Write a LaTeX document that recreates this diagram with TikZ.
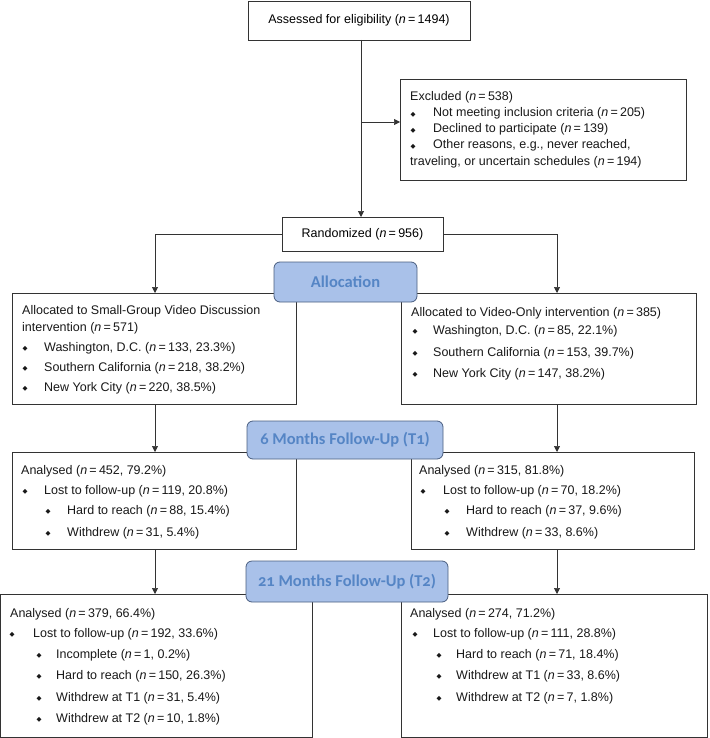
\documentclass[tikz,border=0pt]{standalone}
\usepackage{fontspec}
\setmainfont{Liberation Sans}
\newfontfamily\dejavu{DejaVu Sans}
\newfontfamily\hdrfont[Numbers=OldStyle]{Carlito}
\usetikzlibrary{arrows.meta}
\definecolor{hdrfill}{HTML}{A9C1E9}
\definecolor{hdrdraw}{HTML}{4A5E80}
\definecolor{hdrtext}{HTML}{5585C5}
\definecolor{linec}{HTML}{333333}
\newcommand\bul{{\dejavu\fontsize{6.5}{6.5}\selectfont\raisebox{0.6pt}{◆}}}
\newcommand\nn{\textit{n}\hspace{0.18em}=\hspace{0.18em}}
\newcommand\txline[3]{\node[txt] (#1) at (#2) {#3};}
\newcommand\buline[4]{\node[txt] (#1) at (#2) {\makebox[0pt]{\bul}\hspace{#3}#4};}
\tikzset{
 box/.style={draw=linec, line width=0.7pt, fill=white, anchor=north west, inner sep=0pt, outer sep=0pt, font=\fontsize{12.5}{15}\selectfont},
 hdr/.style={draw=hdrdraw, line width=0.8pt, fill=hdrfill, rounded corners=6pt, anchor=north west, inner sep=0pt, outer sep=0pt, font=\hdrfont\bfseries\fontsize{16.5}{18}\selectfont, text=hdrtext},
 txt/.style={anchor=base west, inner sep=0pt, font=\fontsize{12.5}{15}\selectfont, text=black!90},
 arr/.style={draw=linec, line width=0.7pt, -{Triangle[length=6pt,width=6pt]}},
}
\begin{document}
\begin{tikzpicture}[x=1pt,y=-1pt]
\useasboundingbox (0,0) rectangle (709,738);
% boxes
\node[box, minimum width=222pt, minimum height=39pt] (assess) at (248,1) {Assessed for eligibility (\nn 1494)};
\node[box, minimum width=286pt, minimum height=101pt] (excl) at (400,79) {};
\node[box, minimum width=161pt, minimum height=34pt] (rand) at (282,217) {Randomized (\nn 956)};
\node[box, minimum width=284pt, minimum height=111pt] (alL) at (12,293) {};
\node[box, minimum width=295pt, minimum height=111pt] (alR) at (401,293) {};
\node[box, minimum width=284pt, minimum height=97pt] (t1L) at (12,452) {};
\node[box, minimum width=283pt, minimum height=97pt] (t1R) at (411,452) {};
\node[box, minimum width=311.5pt, minimum height=143pt] (t2L) at (0.5,594) {};
\node[box, minimum width=306pt, minimum height=143pt] (t2R) at (401,594) {};
% connectors
\coordinate (cL) at (155,0);
\coordinate (cR) at (557,0);
\coordinate (cM) at (361,0);
\coordinate (exj) at (361,122);
\draw[arr] (cM |- assess.south) -- (cM |- rand.north);
\draw[arr] (exj) -- (exj -| excl.west);
\draw[arr] (rand.west) -| (cL |- alL.north);
\draw[arr] (rand.east) -| (cR |- alR.north);
\draw[arr] (cL |- alL.south) -- (cL |- t1L.north);
\draw[arr] (cR |- alR.south) -- (cR |- t1R.north);
\draw[arr] (cL |- t1L.south) -- (cL |- t2L.north);
\draw[arr] (cR |- t1R.south) -- (cR |- t2R.north);
% texts
\txline{ex0}{410,101}{Excluded (\nn 538)}
\buline{ex1}{413,117}{20pt}{Not meeting inclusion criteria (\nn 205)}
\buline{ex2}{413,133}{20pt}{Declined to participate (\nn 139)}
\buline{ex3}{413,149}{20pt}{Other reasons, e.g., never reached,}
\txline{ex4}{410,165}{traveling, or uncertain schedules (\nn 194)}
\txline{al0}{22,314}{Allocated to Small-Group Video Discussion}
\txline{al1}{22,331}{intervention (\nn 571)}
\buline{al2}{25,351}{19pt}{Washington, D.C. (\nn 133, 23.3\%)}
\buline{al3}{25,371}{19pt}{Southern California (\nn 218, 38.2\%)}
\buline{al4}{25,391}{19pt}{New York City (\nn 220, 38.5\%)}
\txline{ar0}{411,316}{Allocated to Video-Only intervention (\nn 385)}
\buline{ar1}{415,334}{18pt}{Washington, D.C. (\nn 85, 22.1\%)}
\buline{ar2}{415,356}{18pt}{Southern California (\nn 153, 39.7\%)}
\buline{ar3}{415,377}{18pt}{New York City (\nn 147, 38.2\%)}
\txline{tl0}{21,474}{Analysed (\nn 452, 79.2\%)}
\buline{tl1}{25,494}{19pt}{Lost to follow-up (\nn 119, 20.8\%)}
\buline{tl2}{48,514}{19pt}{Hard to reach (\nn 88, 15.4\%)}
\buline{tl3}{48,536}{19pt}{Withdrew (\nn 31, 5.4\%)}
\txline{tr0}{419,474}{Analysed (\nn 315, 81.8\%)}
\buline{tr1}{423,494}{20pt}{Lost to follow-up (\nn 70, 18.2\%)}
\buline{tr2}{447,514}{19pt}{Hard to reach (\nn 37, 9.6\%)}
\buline{tr3}{447,536}{19pt}{Withdrew (\nn 33, 8.6\%)}
\txline{ul0}{10,617}{Analysed (\nn 379, 66.4\%)}
\buline{ul1}{12,637}{21pt}{Lost to follow-up (\nn 192, 33.6\%)}
\buline{ul2}{39,658}{17pt}{Incomplete (\nn 1, 0.2\%)}
\buline{ul3}{39,679}{17pt}{Hard to reach (\nn 150, 26.3\%)}
\buline{ul4}{39,701}{17pt}{Withdrew at T1 (\nn 31, 5.4\%)}
\buline{ul5}{39,722}{17pt}{Withdrew at T2 (\nn 10, 1.8\%)}
\txline{ur0}{410,617}{Analysed (\nn 274, 71.2\%)}
\buline{ur1}{415,637}{18pt}{Lost to follow-up (\nn 111, 28.8\%)}
\buline{ur2}{439,658}{17pt}{Hard to reach (\nn 71, 18.4\%)}
\buline{ur3}{439,679}{17pt}{Withdrew at T1 (\nn 33, 8.6\%)}
\buline{ur4}{439,701}{17pt}{Withdrew at T2 (\nn 7, 1.8\%)}
% headers
\node[hdr, minimum width=143pt, minimum height=40pt] (alloc) at (274,262) {Allocation};
\node[hdr, minimum width=196pt, minimum height=38pt] (fu1) at (247,421) {6 Months Follow-Up (T1)};
\node[hdr, minimum width=202pt, minimum height=41pt] (fu2) at (246,561) {21 Months Follow-Up (T2)};
\end{tikzpicture}
\end{document}
